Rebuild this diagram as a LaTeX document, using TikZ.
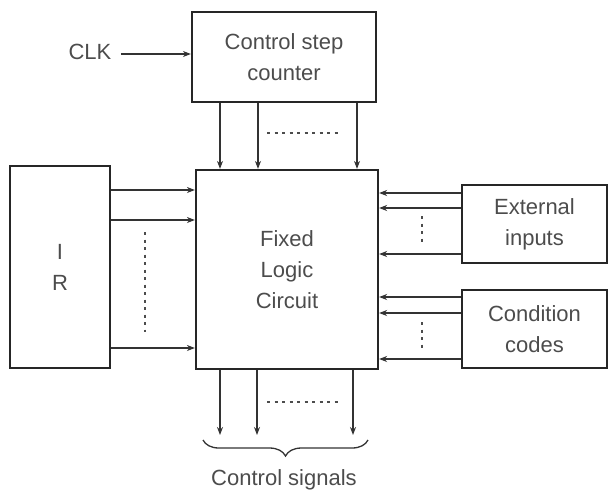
\documentclass[tikz,border=0pt]{standalone}
\usepackage{fontspec}
\setmainfont{Liberation Sans}
\usetikzlibrary{arrows.meta,decorations.pathreplacing}
\begin{document}
\begin{tikzpicture}[x=1pt,y=-1pt,
  box/.style={draw=black!85,line width=2.2pt,inner sep=0pt,align=center,text=black!70,font=\fontsize{22}{31}\selectfont},
  arr/.style={draw=black!80,line width=1.5pt,-{Stealth[length=8pt,width=6pt]}},
  dots/.style={draw=black!70,line width=1.3pt,dash pattern=on 3pt off 4.5pt},
  lbl/.style={text=black!70,font=\fontsize{22}{31}\selectfont}]
\useasboundingbox (0,0) rectangle (609,496);
\node[box,minimum width=184pt,minimum height=90pt] (csc) at (284,57) {Control step\\counter};
\node[box,minimum width=182pt,minimum height=199pt] (flc) at (287,269.5) {Fixed\\Logic\\Circuit};
\node[box,minimum width=100pt,minimum height=202pt] (ir) at (60,267) {I\\R};
\node[box,minimum width=145pt,minimum height=78pt] (ext) at (534.5,224) {External\\inputs};
\node[box,minimum width=145pt,minimum height=78pt] (cc) at (534.5,329) {Condition\\codes};
\node[lbl] (clk) at (90,52) {CLK};
\coordinate (s1) at (220,435);
\coordinate (s2) at (257,435);
\coordinate (s3) at (353,435);
\node[lbl] (cs) at (284,480) {Control signals};
% CLK
\draw[arr] (clk.east) ++(6,2) -- (csc.west |- 0,54);
% counter to logic
\foreach \x in {220,258,357} \draw[arr] (\x,0 |- csc.south) -- (\x,0 |- flc.north);
\draw[dots] (267,133) -- (340,133);
% IR to logic
\foreach \y in {190,220,348} \draw[arr] (ir.east |- 0,\y) -- (flc.west |- 0,\y);
\draw[dots] (145,232) -- (145,332);
% external inputs
\foreach \y in {193,208,254} \draw[arr] (ext.west |- 0,\y) -- (flc.east |- 0,\y);
\draw[dots] (422,216) -- (422,246);
% condition codes
\foreach \y in {297,313,359} \draw[arr] (cc.west |- 0,\y) -- (flc.east |- 0,\y);
\draw[dots] (422,322) -- (422,352);
% outputs
\draw[arr] (220,0 |- flc.south) -- (s1);
\draw[arr] (257,0 |- flc.south) -- (s2);
\draw[arr] (353,0 |- flc.south) -- (s3);
\draw[dots] (267,402) -- (340,402);
\draw[draw=black!80,line width=1.3pt,decorate,decoration={brace,mirror,amplitude=16pt}] (203,440) -- (368,440);
\end{tikzpicture}
\end{document}
